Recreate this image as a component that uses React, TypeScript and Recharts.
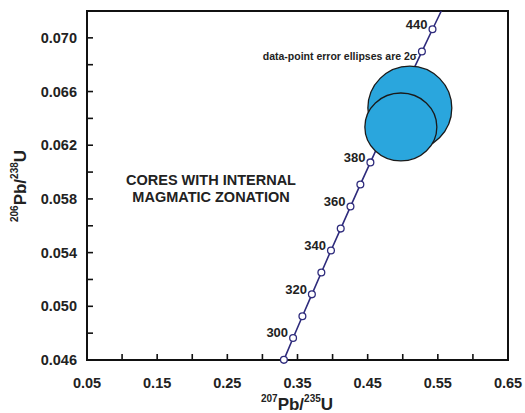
import { ScatterChart, Scatter, XAxis, YAxis, ReferenceArea, ReferenceDot, Customized } from 'recharts'

// concordia points, every 10 Ma (ratios)
const ages = [290, 300, 310, 320, 330, 340, 350, 360, 370, 380, 390, 400, 410, 420, 430, 440]
const pb207u235 = [0.3306, 0.3437, 0.357, 0.3705, 0.384, 0.3977, 0.4116, 0.4255, 0.4396, 0.4539, 0.4683, 0.4828, 0.4975, 0.5123, 0.5273, 0.5424]
const pb206u238 = [0.04601, 0.04764, 0.04926, 0.05089, 0.05252, 0.05416, 0.05579, 0.05743, 0.05908, 0.06072, 0.06237, 0.06401, 0.06567, 0.06732, 0.06898, 0.07064]
// where the curve leaves the top of the frame
const curveEnd = { x: 0.5549, y: 0.072 }
const labelledAges = [300, 320, 340, 360, 380, 440]

// error ellipses: centre and half-axes
const ellX = [0.5101, 0.4973]
const ellY = [0.06477, 0.06336]
const ellRX = [0.0598, 0.0513]
const ellRY = [0.00313, 0.00253]

const xTicks = [0.05, 0.1, 0.15, 0.2, 0.25, 0.3, 0.35, 0.4, 0.45, 0.5, 0.55, 0.6, 0.65]
const yTicks = [0.046, 0.048, 0.05, 0.052, 0.054, 0.056, 0.058, 0.06, 0.062, 0.064, 0.066, 0.068, 0.07, 0.072]
const X_MIN = 0.05, X_MAX = 0.65, Y_MIN = 0.046, Y_MAX = 0.072

const FONT = '"Liberation Sans", Arial, sans-serif'
const NAVY = '#2e2b7c'
const INK = '#222'

const concordia = [
  ...ages.map((age, i) => ({ age, x: pb207u235[i], y: pb206u238[i] })),
  { age: null, x: curveEnd.x, y: curveEnd.y },
]

const Marker = (props: any) => {
  const { cx, cy, payload } = props
  if (payload.age == null) return <g />
  return (
    <g>
      <circle cx={cx} cy={cy} r={3.4} fill="#fff" stroke={NAVY} strokeWidth={1.3} />
      {labelledAges.includes(payload.age) && (
        <text x={cx - 5} y={cy - 5} textAnchor="end" dominantBaseline="central"
          fontFamily={FONT} fontWeight="bold" fontSize={13} fill={INK}>{payload.age}</text>
      )}
    </g>
  )
}

const EllipseShape = (props: any) => {
  const { x, y, width, height } = props
  return <ellipse cx={x + width / 2} cy={y + height / 2} rx={Math.abs(width) / 2} ry={Math.abs(height) / 2}
    fill="#2aa6dd" stroke="#1a1a1a" strokeWidth={1.3} />
}

// inward tick marks
const XTickMark = (p: any) => <path d={`M${p.cx},${p.cy}V${p.cy - 6}`} stroke="#111" strokeWidth={1.6} fill="none" />
const YTickMark = (p: any) => <path d={`M${p.cx},${p.cy}H${p.cx + 6}`} stroke="#111" strokeWidth={1.6} fill="none" />

// labels only on every other tick
const XTick = (props: any) => {
  const { x, y, payload, index } = props
  if (index % 2 !== 0) return <g />
  return (
    <text x={x} y={y + 23} textAnchor="middle" dominantBaseline="central"
      fontFamily={FONT} fontWeight="bold" fontSize={14.5} fill={INK}>{payload.value.toFixed(2)}</text>
  )
}

const YTick = (props: any) => {
  const { x, y, payload, index } = props
  if (index % 2 !== 0 || payload.value > 0.071) return <g />
  return (
    <text x={x - 10} y={y} textAnchor="end" dominantBaseline="central"
      fontFamily={FONT} fontWeight="bold" fontSize={14.5} fill={INK}>{payload.value.toFixed(3)}</text>
  )
}

const Notes = () => (
  <g fontFamily={FONT} fontWeight="bold" fill={INK}>
    <text x={417} y={56} textAnchor="end" dominantBaseline="central" fontSize={10.5}>data-point error ellipses are 2σ</text>
    <text x={211} y={180} textAnchor="middle" dominantBaseline="central" fontSize={14.5}>CORES WITH INTERNAL</text>
    <text x={211} y={197} textAnchor="middle" dominantBaseline="central" fontSize={14.5}>MAGMATIC ZONATION</text>
    <text x={297} y={404} textAnchor="middle" dominantBaseline="central" fontSize={17}>
      <tspan fontSize={10} dy={-6}>207</tspan><tspan dy={6}>Pb/</tspan><tspan fontSize={10} dy={-6}>235</tspan><tspan dy={6}>U</tspan>
    </text>
    <text transform="translate(20,186) rotate(-90)" textAnchor="middle" dominantBaseline="central" fontSize={17}>
      <tspan fontSize={10} dy={-6}>206</tspan><tspan dy={6}>Pb/</tspan><tspan fontSize={10} dy={-6}>238</tspan><tspan dy={6}>U</tspan>
    </text>
  </g>
)

export default function App() {
  return (
    <div style={{ position: 'absolute', left: 0, top: 0, background: '#fff' }}>
      <ScatterChart width={525} height={413} margin={{ top: 11, right: 17, bottom: 0, left: 0 }}>
        <XAxis type="number" dataKey="x" domain={[X_MIN, X_MAX]} ticks={xTicks} interval={0}
          height={53} tickSize={0} tickMargin={0} tickLine={false} tick={<XTick />}
          axisLine={{ stroke: '#111', strokeWidth: 2 }} />
        <YAxis type="number" dataKey="y" domain={[Y_MIN, Y_MAX]} ticks={yTicks} interval={0}
          width={87} tickSize={0} tickMargin={0} tickLine={false} tick={<YTick />}
          axisLine={{ stroke: '#111', strokeWidth: 2 }} />
        <ReferenceArea x1={X_MIN} x2={X_MAX} y1={Y_MIN} y2={Y_MAX} fill="none" fillOpacity={0}
          stroke="#111" strokeWidth={2} />
        {xTicks.map((v) => (
          <ReferenceDot key={'xt' + v} x={v} y={Y_MIN} shape={XTickMark} zIndex={800} />
        ))}
        {yTicks.map((v) => (
          <ReferenceDot key={'yt' + v} x={X_MIN} y={v} shape={YTickMark} zIndex={800} />
        ))}
        <Scatter data={concordia} line={{ stroke: NAVY, strokeWidth: 1.6 }} lineType="joint"
          shape={Marker} isAnimationActive={false} />
        {ellX.map((cx, i) => (
          <ReferenceArea key={i} x1={cx - ellRX[i]} x2={cx + ellRX[i]} y1={ellY[i] - ellRY[i]} y2={ellY[i] + ellRY[i]}
            shape={EllipseShape} zIndex={700} />
        ))}
        <Customized component={Notes} />
      </ScatterChart>
    </div>
  )
}
